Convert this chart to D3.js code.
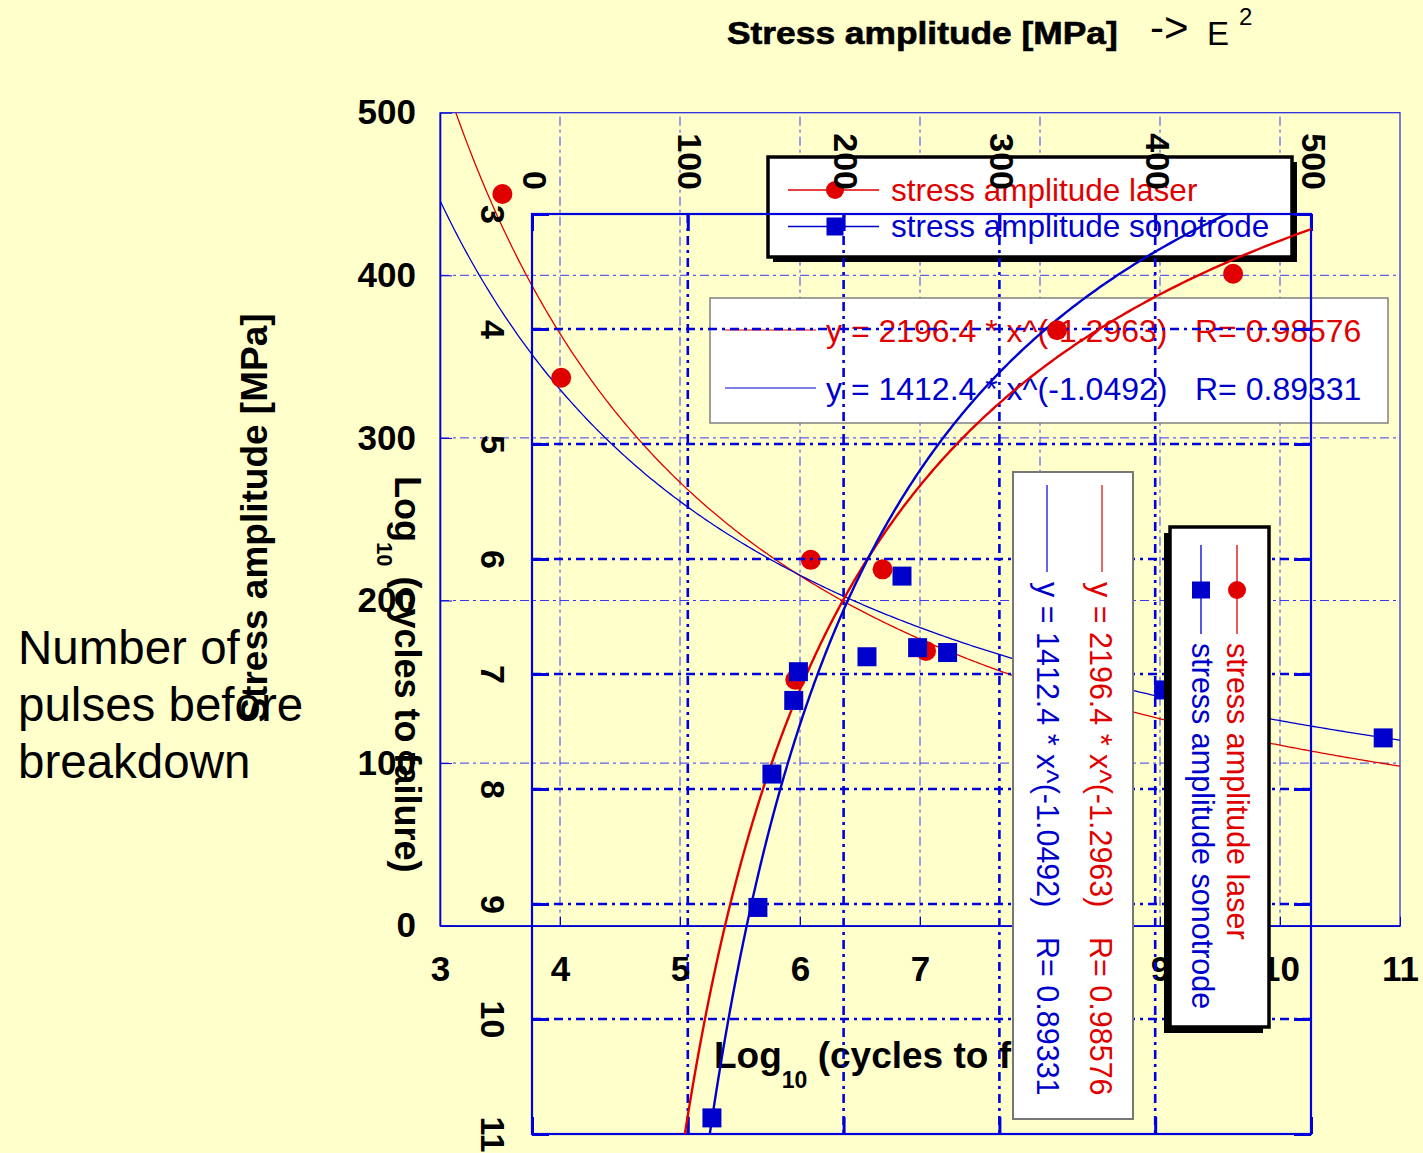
<!DOCTYPE html>
<html>
<head>
<meta charset="utf-8">
<script src="https://cdn.jsdelivr.net/npm/d3@7"></script>
<style>
  html, body { margin: 0; padding: 0; background: #ffffcc; }
  svg { display: block; }
</style>
</head>
<body>
<svg id="chart" width="1423" height="1153"></svg>
<script>
// Tick values shared by both panels
const logTicks = [3, 4, 5, 6, 7, 8, 9, 10, 11];
const stressTicks = [0, 100, 200, 300, 400, 500];

// Laser-loaded specimens: log10(cycles to failure) and stress amplitude [MPa]
const laserLogN   = [3.52, 4.01, 6.09, 7.05];
const laserStress = [450, 337, 225, 169];

// Sonotrode-loaded specimens
const sonoLogN   = [10.86, 9.03, 7.23, 6.98, 6.85, 7.87];
const sonoStress = [115.5, 145, 168, 171, 215, 154];

// Power-law fits y = a * x^b : [a, b, R]
const laserFit = [2196.4, -1.2963, 0.98576];
const sonoFit  = [1412.4, -1.0492, 0.89331];

const seriesNames = ["stress amplitude laser", "stress amplitude sonotrode"];

const FONT = "'Liberation Sans', Arial, Helvetica, sans-serif";
const RED = "#e00000", BLUE = "#0000cc", BG = "#ffffcc";

const svg = d3.select("#chart").attr("font-family", FONT);
svg.append("rect").attr("width", 1423).attr("height", 1153).attr("fill", BG);

const laserPts = laserLogN.map((n, i) => ({ n, s: laserStress[i] }));
const sonoPts  = sonoLogN.map((n, i) => ({ n, s: sonoStress[i] }));
const fitCurve = f => d3.range(3, 11.0001, 0.02).map(n => ({ n, s: f[0] * Math.pow(n, f[1]) }));
const eqText = f => `y = ${f[0]} * x^(${f[1]})`;
const rText  = f => `R= ${f[2]}`;

// ---------- scales ----------
// Panel A: log cycles horizontally, stress vertically
const xA = d3.scaleLinear().domain([3, 11]).range([440, 1400]);
const yA = d3.scaleLinear().domain([0, 500]).range([925.7, 112.7]);
// Panel B: the same diagram turned a quarter clockwise
const xB = d3.scaleLinear().domain([0, 500]).range([532, 1311]);
const yB = d3.scaleLinear().domain([3, 11]).range([214, 1134]);

const defs = svg.append("defs");
defs.append("clipPath").attr("id", "clipA").append("rect")
  .attr("x", xA(3)).attr("y", yA(500))
  .attr("width", xA(11) - xA(3)).attr("height", yA(0) - yA(500));
defs.append("clipPath").attr("id", "clipB").append("rect")
  .attr("x", xB(0)).attr("y", yB(3))
  .attr("width", xB(500) - xB(0)).attr("height", yB(11) - yB(3));

function squares(g, pts, px, py, size, color) {
  g.selectAll(null).data(pts).join("rect")
    .attr("x", d => px(d) - size / 2).attr("y", d => py(d) - size / 2)
    .attr("width", size).attr("height", size).attr("fill", color);
}
function circles(g, pts, px, py, r, color) {
  g.selectAll(null).data(pts).join("circle")
    .attr("cx", px).attr("cy", py).attr("r", r).attr("fill", color);
}

// ================= Panel A =================
const gA = svg.append("g");

// dash-dot grid
gA.append("g").selectAll("line").data(logTicks.slice(1, -1)).join("line")
  .attr("x1", d => xA(d)).attr("x2", d => xA(d)).attr("y1", yA(0)).attr("y2", yA(500))
  .attr("stroke", "#3838f0").attr("stroke-width", 1).attr("stroke-dasharray", "9,4,3,4");
gA.append("g").selectAll("line").data(stressTicks.slice(1, -1)).join("line")
  .attr("y1", d => yA(d)).attr("y2", d => yA(d)).attr("x1", xA(3)).attr("x2", xA(11))
  .attr("stroke", "#3838f0").attr("stroke-width", 1).attr("stroke-dasharray", "9,4,3,4");

gA.append("rect")
  .attr("x", xA(3)).attr("y", yA(500)).attr("width", xA(11) - xA(3)).attr("height", yA(0) - yA(500))
  .attr("fill", "none").attr("stroke", "#2020e0").attr("stroke-width", 1.2);

const axAx = gA.append("g").attr("transform", `translate(0,${yA(0)})`)
  .call(d3.axisBottom(xA).tickValues(logTicks).tickSizeInner(-9).tickSizeOuter(0).tickFormat(d3.format("d")));
axAx.attr("font-family", FONT).attr("font-size", 35).attr("font-weight", "bold");
axAx.select(".domain").attr("stroke", BLUE).attr("stroke-width", 1.6);
axAx.selectAll(".tick line").attr("stroke", BLUE);
axAx.selectAll(".tick text").attr("y", 55).attr("dy", null).attr("fill", "#000");

const axAy = gA.append("g").attr("transform", `translate(${xA(3)},0)`)
  .call(d3.axisLeft(yA).tickValues(stressTicks).tickSizeInner(-12).tickSizeOuter(0).tickPadding(24));
axAy.attr("font-family", FONT).attr("font-size", 35).attr("font-weight", "bold");
axAy.select(".domain").attr("stroke", BLUE).attr("stroke-width", 1.6);
axAy.selectAll(".tick line").attr("stroke", BLUE);
axAy.selectAll(".tick text").attr("fill", "#000");

// axis titles
gA.append("text").attr("transform", "translate(267,518) rotate(-90)")
  .attr("text-anchor", "middle").attr("font-size", 37).attr("font-weight", "bold")
  .text("Stress amplitude [MPa]");
const xtA = gA.append("text").attr("x", 714).attr("y", 1068)
  .attr("font-size", 37).attr("font-weight", "bold");
xtA.append("tspan").text("Log");
xtA.append("tspan").attr("font-size", 23).attr("dy", 20).text("10");
xtA.append("tspan").attr("dy", -20).text(" (cycles to failure)");

// fitted curves
const lineA = d3.line().x(d => xA(d.n)).y(d => yA(d.s));
gA.append("path").datum(fitCurve(laserFit)).attr("d", lineA).attr("clip-path", "url(#clipA)")
  .attr("fill", "none").attr("stroke", RED).attr("stroke-width", 1.3);
gA.append("path").datum(fitCurve(sonoFit)).attr("d", lineA).attr("clip-path", "url(#clipA)")
  .attr("fill", "none").attr("stroke", BLUE).attr("stroke-width", 1.3);

// data points
circles(gA.append("g"), laserPts, d => xA(d.n), d => yA(d.s), 10, RED);
squares(gA.append("g"), sonoPts, d => xA(d.n), d => yA(d.s), 19, BLUE);

// series legend
gA.append("rect").attr("x", 773).attr("y", 162).attr("width", 524).attr("height", 100).attr("fill", "#000");
gA.append("rect").attr("x", 768).attr("y", 157).attr("width", 524).attr("height", 100)
  .attr("fill", "#fff").attr("stroke", "#000").attr("stroke-width", 3.5);
[[RED, 190, 200.5], [BLUE, 226.5, 237]].forEach(([c, ly, ty], i) => {
  gA.append("line").attr("x1", 788).attr("x2", 879).attr("y1", ly).attr("y2", ly)
    .attr("stroke", c).attr("stroke-width", 1.3);
  if (i === 0) gA.append("circle").attr("cx", 835).attr("cy", ly).attr("r", 9).attr("fill", c);
  else gA.append("rect").attr("x", 826.5).attr("y", ly - 9).attr("width", 17).attr("height", 18).attr("fill", c);
  gA.append("text").attr("x", 891).attr("y", ty).attr("font-size", 31.5).attr("fill", c).text(seriesNames[i]);
});

// fit legend
gA.append("rect").attr("x", 710).attr("y", 298).attr("width", 678).attr("height", 125)
  .attr("fill", "#fff").attr("stroke", "#808080").attr("stroke-width", 1.5);
[[RED, laserFit, 330, 342], [BLUE, sonoFit, 388, 400]].forEach(([c, f, ly, ty]) => {
  gA.append("line").attr("x1", 725).attr("x2", 816).attr("y1", ly).attr("y2", ly)
    .attr("stroke", c).attr("stroke-width", 1.2);
  gA.append("text").attr("x", 826).attr("y", ty).attr("font-size", 32).attr("fill", c).text(eqText(f));
  gA.append("text").attr("x", 1195).attr("y", ty).attr("font-size", 32).attr("fill", c).text(rText(f));
});

// side note
const note = svg.append("text").attr("x", 18).attr("font-size", 47.5).attr("fill", "#000");
["Number of", "pulses before", "breakdown"].forEach((t, i) =>
  note.append("tspan").attr("x", 18).attr("y", 664 + i * 57).text(t));

// ================= Panel B (rotated) =================
const gB = svg.append("g");

gB.append("g").selectAll("line").data(stressTicks.slice(1, -1)).join("line")
  .attr("x1", d => xB(d)).attr("x2", d => xB(d)).attr("y1", yB(3)).attr("y2", yB(11))
  .attr("stroke", "#0000dd").attr("stroke-width", 2.6).attr("stroke-dasharray", "9,5,3,5");
gB.append("g").selectAll("line").data(logTicks.slice(1, -1)).join("line")
  .attr("y1", d => yB(d)).attr("y2", d => yB(d)).attr("x1", xB(0)).attr("x2", xB(500))
  .attr("stroke", "#0000dd").attr("stroke-width", 2.6).attr("stroke-dasharray", "9,5,3,5");

gB.append("rect")
  .attr("x", xB(0)).attr("y", yB(3)).attr("width", xB(500) - xB(0)).attr("height", yB(11) - yB(3))
  .attr("fill", "none").attr("stroke", "#0000dd").attr("stroke-width", 2.2);

function styleB(ax) {
  ax.attr("font-family", FONT).attr("font-size", 34).attr("font-weight", "bold");
  ax.select(".domain").remove();
  ax.selectAll(".tick line").attr("stroke", "#0000dd").attr("stroke-width", 3);
  ax.selectAll(".tick text").attr("fill", "#000").attr("x", null).attr("y", null).attr("dy", null);
}
const axBtop = gB.append("g").attr("transform", `translate(0,${yB(3)})`)
  .call(d3.axisTop(xB).tickValues(stressTicks).tickSizeInner(-17).tickSizeOuter(0));
styleB(axBtop);
axBtop.selectAll(".tick text").attr("text-anchor", "end").attr("transform", "translate(-10,-24) rotate(90)");

const axBleft = gB.append("g").attr("transform", `translate(${xB(0)},0)`)
  .call(d3.axisLeft(yB).tickValues(logTicks).tickSizeInner(-17).tickSizeOuter(0).tickFormat(d3.format("d")));
styleB(axBleft);
axBleft.selectAll(".tick text").attr("text-anchor", "middle").attr("transform", "translate(-51,0) rotate(90)");

const axBright = gB.append("g").attr("transform", `translate(${xB(500)},0)`)
  .call(d3.axisRight(yB).tickValues(logTicks).tickSizeInner(-17).tickSizeOuter(0).tickFormat(""));
styleB(axBright);
const axBbottom = gB.append("g").attr("transform", `translate(0,${yB(11)})`)
  .call(d3.axisBottom(xB).tickValues(stressTicks).tickSizeInner(-17).tickSizeOuter(0).tickFormat(""));
styleB(axBbottom);

// titles of the turned panel
gB.append("text").attr("transform", "translate(727,44) scale(1.01,0.92)")
  .attr("font-size", 35).attr("font-weight", "bold")
  .attr("stroke", "#000").attr("stroke-width", 0.7)
  .text("Stress amplitude [MPa]");
const xtB = gB.append("text").attr("transform", "translate(395,476) rotate(90)")
  .attr("font-size", 36).attr("font-weight", "bold");
xtB.append("tspan").text("Log");
xtB.append("tspan").attr("font-size", 22).attr("dy", 18).text("10");
xtB.append("tspan").attr("dy", -18).text(" (cycles to failure)");

// fitted curves
const lineB = d3.line().x(d => xB(d.s)).y(d => yB(d.n));
gB.append("path").datum(fitCurve(laserFit)).attr("d", lineB).attr("clip-path", "url(#clipB)")
  .attr("fill", "none").attr("stroke", RED).attr("stroke-width", 2.4);
gB.append("path").datum(fitCurve(sonoFit)).attr("d", lineB).attr("clip-path", "url(#clipB)")
  .attr("fill", "none").attr("stroke", BLUE).attr("stroke-width", 2.4);

circles(gB.append("g"), laserPts, d => xB(d.s), d => yB(d.n), 10, RED);
squares(gB.append("g"), sonoPts, d => xB(d.s), d => yB(d.n), 19, BLUE);

// fit legend (turned)
gB.append("rect").attr("x", 1013).attr("y", 472).attr("width", 120).attr("height", 647)
  .attr("fill", "#fff").attr("stroke", "#777").attr("stroke-width", 2);
[[RED, laserFit, 1102, 1090], [BLUE, sonoFit, 1047, 1037]].forEach(([c, f, lx, tx]) => {
  gB.append("line").attr("x1", lx).attr("x2", lx).attr("y1", 485).attr("y2", 572)
    .attr("stroke", c).attr("stroke-width", 1.2);
  gB.append("text").attr("transform", `translate(${tx},582) rotate(90)`)
    .attr("font-size", 30.5).attr("fill", c).text(eqText(f));
  gB.append("text").attr("transform", `translate(${tx},937) rotate(90)`)
    .attr("font-size", 30.5).attr("fill", c).text(rText(f));
});

// series legend (turned)
gB.append("rect").attr("x", 1164).attr("y", 533).attr("width", 99).attr("height", 500).attr("fill", "#000");
gB.append("rect").attr("x", 1170).attr("y", 527).attr("width", 99).attr("height", 500)
  .attr("fill", "#fff").attr("stroke", "#000").attr("stroke-width", 3.5);
[[RED, 1237, 1227], [BLUE, 1201, 1192]].forEach(([c, lx, tx], i) => {
  gB.append("line").attr("x1", lx).attr("x2", lx).attr("y1", 545).attr("y2", 634)
    .attr("stroke", c).attr("stroke-width", 1.3);
  if (i === 0) gB.append("circle").attr("cx", lx).attr("cy", 590).attr("r", 9).attr("fill", c);
  else gB.append("rect").attr("x", lx - 9).attr("y", 581.5).attr("width", 18).attr("height", 17).attr("fill", c);
  gB.append("text").attr("transform", `translate(${tx},643) rotate(90)`)
    .attr("font-size", 30.5).attr("fill", c).text(seriesNames[i]);
});

// arrow note
svg.append("text").attr("x", 1150).attr("y", 42).attr("font-size", 42).text("->");
svg.append("text").attr("x", 1207).attr("y", 45).attr("font-size", 33).text("E");
svg.append("text").attr("x", 1239).attr("y", 25).attr("font-size", 24).text("2");
</script>
</body>
</html>
